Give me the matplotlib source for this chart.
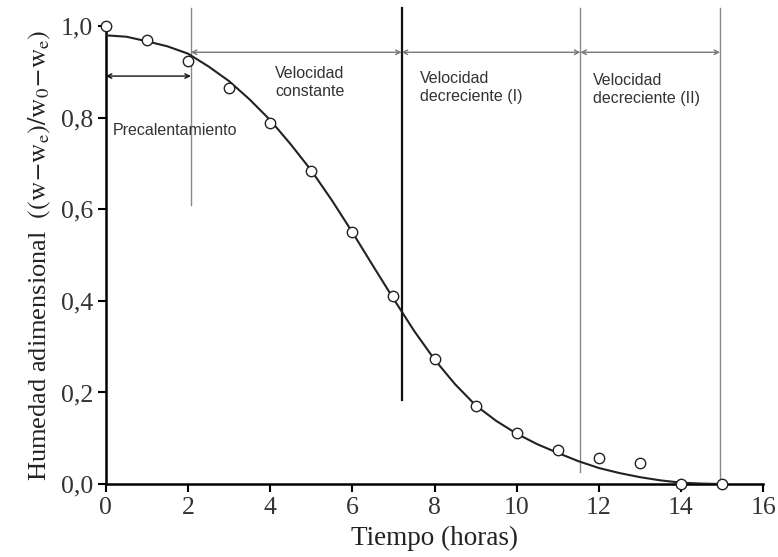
import matplotlib
matplotlib.use("Agg")
import matplotlib.pyplot as plt

# Observed data points
t_obs = [0, 1, 2, 3, 4, 5, 6, 7, 8, 9, 10, 11, 12, 13, 14, 15]
w_obs = [1.000, 0.969, 0.924, 0.865, 0.788, 0.683, 0.550, 0.410,
         0.273, 0.170, 0.111, 0.074, 0.057, 0.046, 0.000, 0.000]

# Fitted curve
t_fit = [0, 0.5, 1, 1.5, 2, 2.5, 3, 3.5, 4, 4.5, 5, 5.5, 6, 6.5, 7, 7.5,
         8, 8.5, 9, 9.5, 10, 10.5, 11, 11.5, 12, 12.5, 13, 13.5, 14, 14.5, 15]
w_fit = [0.980, 0.977, 0.967, 0.956, 0.940, 0.912, 0.880, 0.840, 0.795, 0.742,
         0.685, 0.620, 0.550, 0.477, 0.405, 0.335, 0.272, 0.218, 0.172, 0.138,
         0.110, 0.087, 0.068, 0.050, 0.035, 0.024, 0.015, 0.008, 0.003, 0.001, 0.000]

# Stage boundaries
bounds = [2.07, 7.2, 11.55, 14.95]
bound_bottoms = [0.61, 0.183, 0.026, 0.0]
stage_labels = ["Velocidad\nconstante", "Velocidad\ndecreciente (I)", "Velocidad\ndecreciente (II)"]
stage_label_x = [4.12, 7.65, 11.86]
pre_label = "Precalentamiento"

x_ticks = [0, 2, 4, 6, 8, 10, 12, 14, 16]
y_ticks = [0.0, 0.2, 0.4, 0.6, 0.8, 1.0]
y_ticklabels = ["0,0", "0,2", "0,4", "0,6", "0,8", "1,0"]

plt.rcParams['mathtext.fontset'] = 'stix'

fig = plt.figure(figsize=(7.78, 5.57), dpi=100)
ax = fig.add_axes([0.136, 0.131, 0.845, 0.822])

ax.plot(t_fit, w_fit, color='#222222', lw=1.5, zorder=3)
ax.plot(t_obs, w_obs, 'o', mfc='white', mec='#222222', mew=1.0, ms=7.5,
        clip_on=False, zorder=4)

# vertical stage lines
styles = [('#888888', 1.0), ('#111111', 1.6), ('#888888', 1.0), ('#888888', 1.0)]
for xb, yb, (c, lw) in zip(bounds, bound_bottoms, styles):
    ax.plot([xb, xb], [yb, 1.04], color=c, lw=lw, clip_on=False, zorder=2)

# horizontal arrows
arrow_y = 0.943
for x0, x1 in zip(bounds[:-1], bounds[1:]):
    ax.annotate("", xy=(x1, arrow_y), xytext=(x0, arrow_y),
                arrowprops=dict(arrowstyle='<->', color='#777777', lw=1.0,
                                shrinkA=0, shrinkB=0, mutation_scale=8))
ax.annotate("", xy=(bounds[0], 0.891), xytext=(0, 0.891),
            arrowprops=dict(arrowstyle='<->', color='#111111', lw=1.0,
                            shrinkA=0, shrinkB=0, mutation_scale=8))

tfont = dict(family='Liberation Sans', fontsize=11.5, color='#333333')
ax.text(0.17, 0.773, pre_label, va='center', ha='left', **tfont)
ys = [0.878, 0.867, 0.862]
for lab, x, y in zip(stage_labels, stage_label_x, ys):
    ax.text(x, y, lab, va='center', ha='left', linespacing=1.25, **tfont)

ax.set_xlim(0, 16)
ax.set_ylim(0, 1.0)
ax.spines['top'].set_visible(False)
ax.spines['right'].set_visible(False)
ax.spines['left'].set_linewidth(1.8)
ax.spines['bottom'].set_linewidth(1.8)
ax.set_xticks(x_ticks)
ax.set_xticklabels([str(v) for v in x_ticks])
ax.set_yticks(y_ticks)
ax.set_yticklabels(y_ticklabels)
ax.tick_params(direction='out', length=6, width=1.5, labelsize=18.5, pad=3)
for lbl in ax.get_xticklabels() + ax.get_yticklabels():
    lbl.set_fontfamily('Liberation Serif')
    lbl.set_color('#333333')

ax.set_xlabel("Tiempo (horas)", family='Liberation Serif', fontsize=19.5,
              color='#222222', labelpad=5)
ax.set_ylabel(r"Humedad adimensional  $\left((\mathrm{w}\!-\!\mathrm{w}_\mathrm{e})/\mathrm{w}_0\!-\!\mathrm{w}_\mathrm{e}\right)$",
              family='Liberation Serif', fontsize=19, color='#222222', labelpad=6)

fig.savefig("out.png", dpi=100)
